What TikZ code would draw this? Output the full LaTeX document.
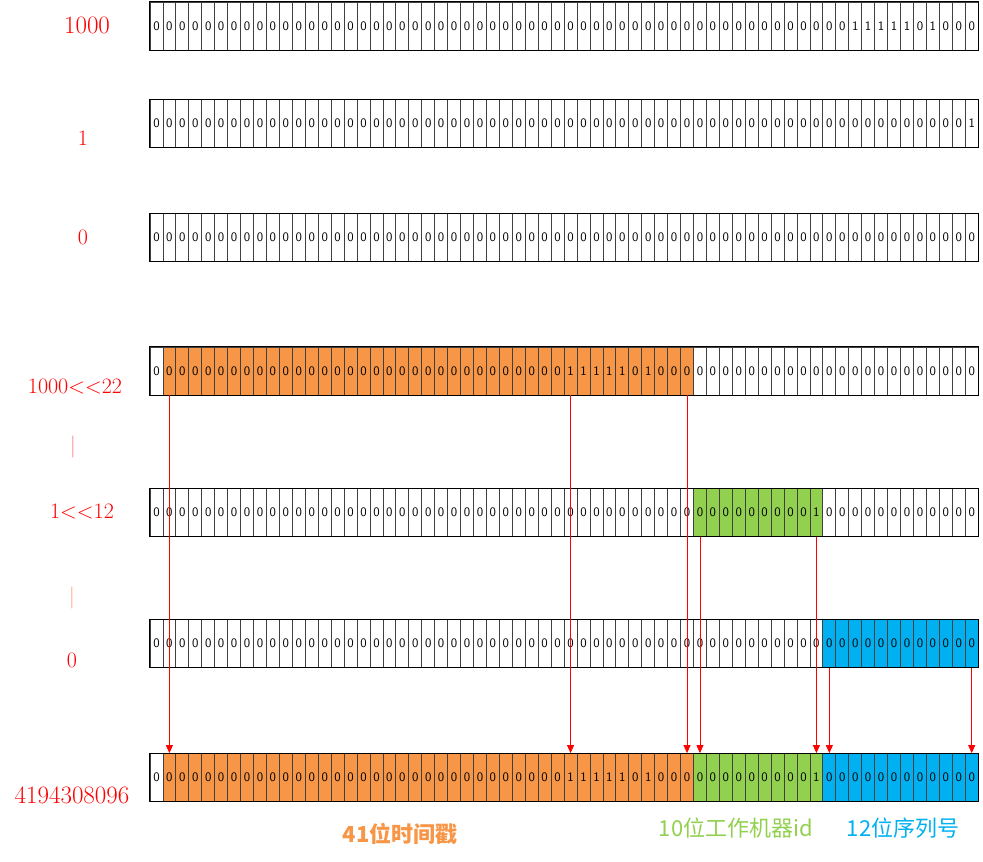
\documentclass[tikz,border=0pt]{standalone}
\usepackage{fontspec}
\newfontfamily\cjk{Noto Sans CJK SC}
\usetikzlibrary{arrows.meta}
\definecolor{tsorange}{HTML}{F79646}
\definecolor{wkgreen}{HTML}{92D050}
\definecolor{sqblue}{HTML}{00B0F0}
\definecolor{barpink}{HTML}{FF7F8A}
\definecolor{barorange}{HTML}{FFA07A}
\def\cellw{12.94}
% one row of 64 bit cells: name, centre y, indices of ones, fills of the three fields
\newcommand{\bitrow}[6]{%
  \foreach \i in {0,...,63} {%
    \gdef\bit{0}%
    \foreach \k in {#3} {\ifnum\k=\i\relax \gdef\bit{1}\fi}%
    \ifnum\i=0 \def\cfill{white}\else
      \ifnum\i<42 \def\cfill{#4}\else
        \ifnum\i<52 \def\cfill{#5}\else \def\cfill{#6}\fi\fi\fi
    \node[cell, fill=\cfill] (#1-\i) at ({150+\cellw*(\i+0.5)}, #2) {\bit};
  }%
  \draw[rowframe] (#1-0.north west) rectangle (#1-63.south east);
}

\begin{document}
\begin{tikzpicture}[x=1pt, y=-1pt,
    cell/.style={draw=black!75, line width=0.8pt, minimum width=12.94pt, minimum height=48pt, inner sep=0pt, font=\fontsize{13}{15}\sffamily},
    rowframe/.style={draw=black, line width=1pt},
    numlabel/.style={text=red, inner sep=0pt, font=\fontsize{22}{26}\selectfont},
    biglabel/.style={numlabel, font=\fontsize{25}{29}\selectfont},
    fieldlabel/.style={inner sep=0pt, font=\fontsize{22}{26}\selectfont\cjk},
    bitarrow/.style={draw=red, line width=0.8pt, -{Triangle[length=8pt,width=7pt]}}]
			%%%%% START %%%%%
			\useasboundingbox (0,0) rectangle (983,862);
			
			\bitrow{r1}{26}{54,55,56,57,58,60}{white}{white}{white}
			\bitrow{r2}{123.5}{63}{white}{white}{white}
			\bitrow{r3}{237.5}{-1}{white}{white}{white}
			\bitrow{r4}{371}{32,33,34,35,36,38}{tsorange}{white}{white}
			\bitrow{r5}{512.5}{51}{white}{wkgreen}{white}
			\bitrow{r6}{643.5}{-1}{white}{white}{sqblue}
			\bitrow{r7}{777.5}{32,33,34,35,36,38,51}{tsorange}{wkgreen}{sqblue}
			
			\node[biglabel] (lbl1000) at (87, 25) {1000};
			\node[numlabel] (lblone) at (83, 138) {1};
			\node[numlabel] (lblzero) at (83, 237) {0};
			\node[numlabel] (lblshift22) at (75, 387) {1000<\kern0pt<22};
			\node[numlabel, text=barpink] (lblor1) at (73, 447) {|};
			\node[numlabel] (lblshift12) at (82, 512) {1<\kern0pt<12};
			\node[numlabel, text=barorange] (lblor2) at (72, 598) {|};
			\node[numlabel] (lblzerob) at (72, 660) {0};
			\node[biglabel] (lblsum) at (72, 795) {4194308096};
			
			\draw[bitarrow] (r4-1.south) -- (r7-1.north);
			\draw[bitarrow] (r4-32.south) -- (r7-32.north);
			\draw[bitarrow] (r4-41.south) -- (r7-41.north);
			\draw[bitarrow] (r5-42.south) -- (r7-42.north);
			\draw[bitarrow] (r5-51.south) -- (r7-51.north);
			\draw[bitarrow] (r6-52.south) -- (r7-52.north);
			\draw[bitarrow] (r6-63.south) -- (r7-63.north);
			
			\node[fieldlabel, text=tsorange, font={\fontsize{22}{26}\selectfont\cjk\bfseries}] (tslbl) at (400, 834) {41位时间戳};
			\node[fieldlabel, text=wkgreen] (wklbl) at (736, 828) {10位工作机器id};
			\node[fieldlabel, text=sqblue] (sqlbl) at (903, 828) {12位序列号};
			%%%%% END %%%%%
\end{tikzpicture}
\end{document}
